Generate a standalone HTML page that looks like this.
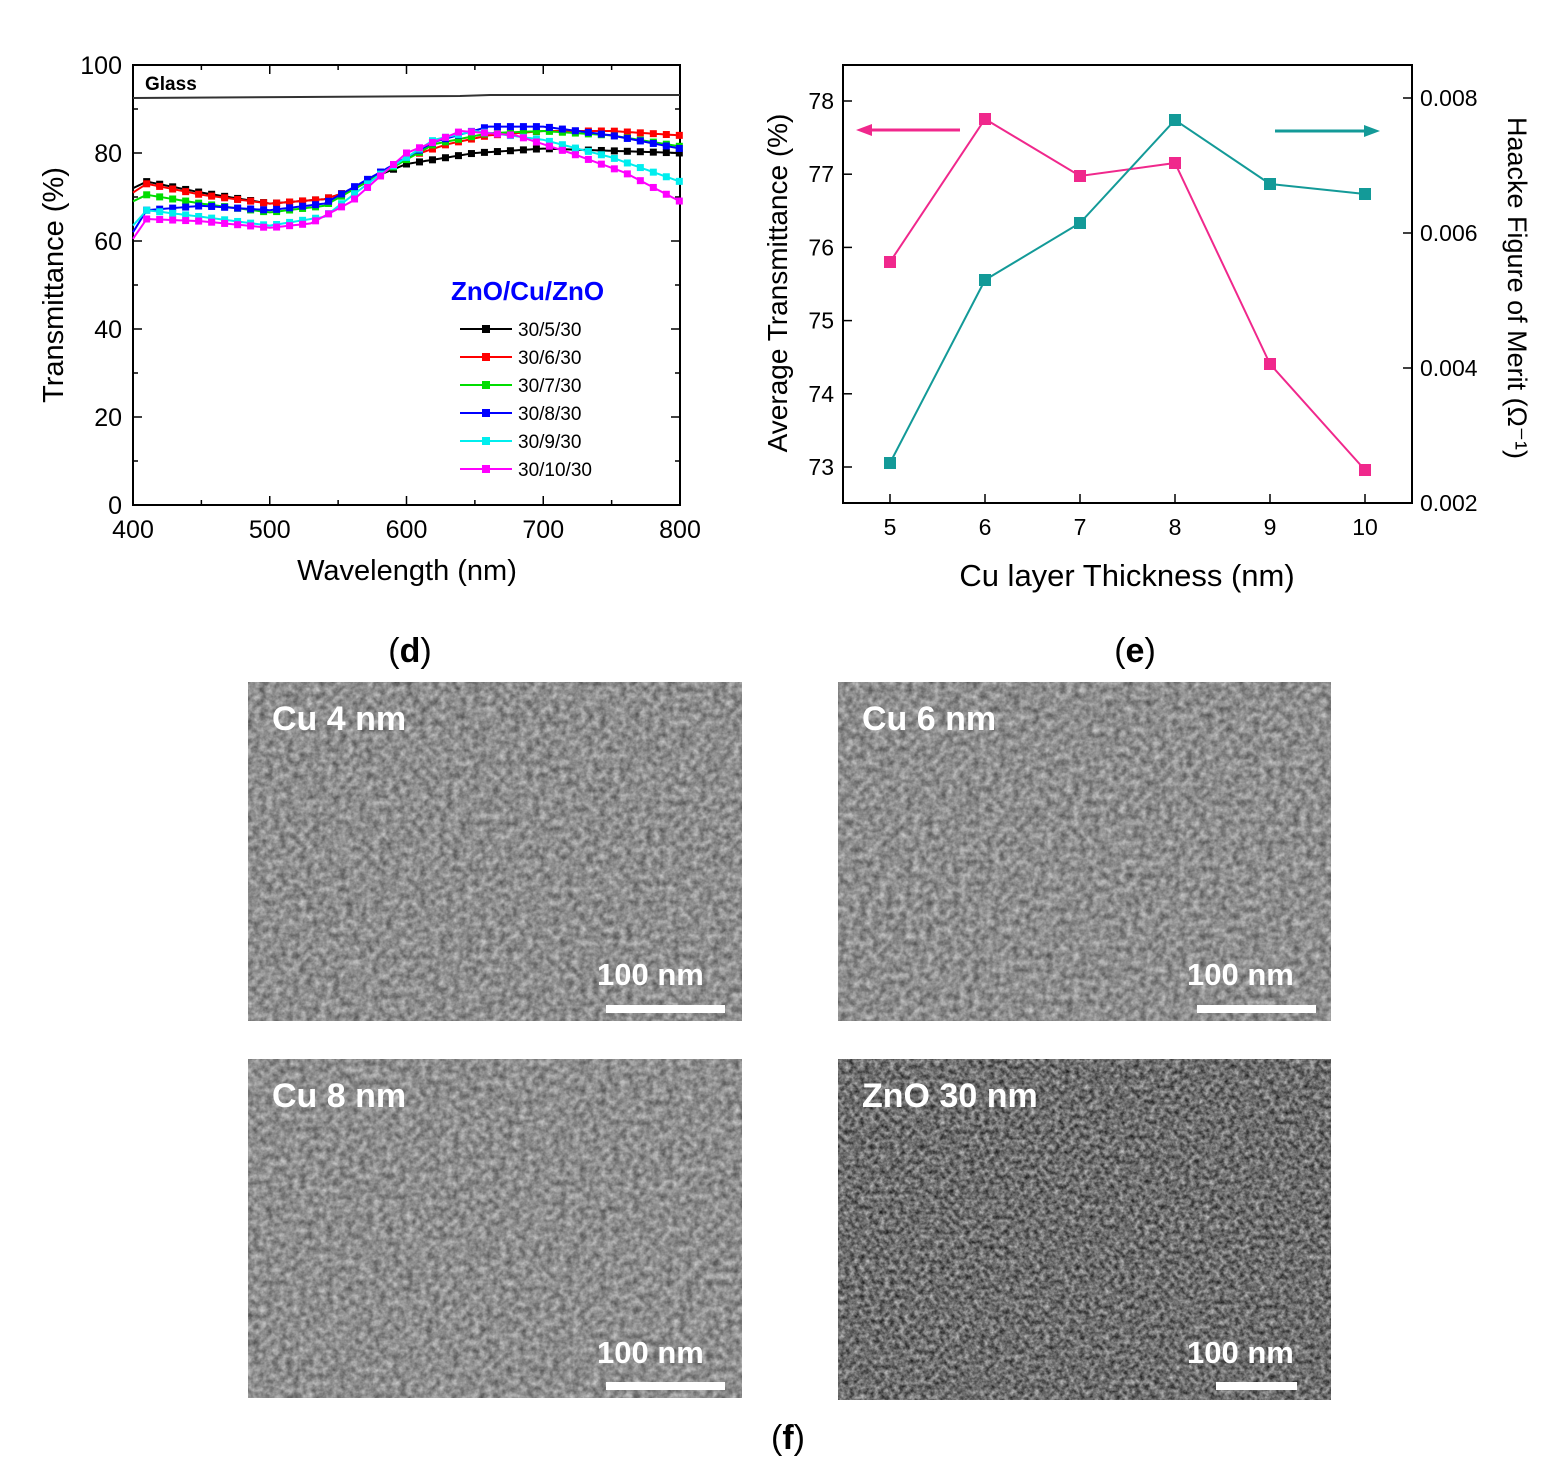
<!DOCTYPE html>
<html><head><meta charset="utf-8"><style>
body{margin:0;background:#fff;}
svg text{font-family:"Liberation Sans",Arial,sans-serif;}
</style></head><body>
<svg id="s" width="1568" height="1466" xmlns="http://www.w3.org/2000/svg">
<defs>
<filter id="g1" x="0" y="0" width="100%" height="100%" color-interpolation-filters="sRGB"><feTurbulence type="fractalNoise" baseFrequency="0.15" numOctaves="3" seed="2" result="t"/><feColorMatrix in="t" type="matrix" values="0.55 0 0 0 0.28  0.55 0 0 0 0.28  0.55 0 0 0 0.28  0 0 0 0 1"/></filter>
<filter id="g2" x="0" y="0" width="100%" height="100%" color-interpolation-filters="sRGB"><feTurbulence type="fractalNoise" baseFrequency="0.2" numOctaves="3" seed="7" result="t"/><feColorMatrix in="t" type="matrix" values="0.8 0 0 0 0.03  0.8 0 0 0 0.03  0.8 0 0 0 0.03  0 0 0 0 1"/></filter>
</defs>
<g id="d"></g>
<g id="e"></g>
<rect x="248" y="682" width="494" height="339" filter="url(#g1)"/>
<rect x="838" y="682" width="493" height="339" filter="url(#g1)"/>
<rect x="248" y="1059" width="494" height="339" filter="url(#g1)"/>
<rect x="838" y="1059" width="493" height="341" filter="url(#g2)"/>
<g fill="#fff" font-weight="bold" font-size="34">
<text x="272" y="730">Cu 4 nm</text><text x="862" y="730">Cu 6 nm</text>
<text x="272" y="1107">Cu 8 nm</text><text x="862" y="1107">ZnO 30 nm</text>
<text x="597" y="985" font-size="31">100 nm</text><text x="1187" y="985" font-size="31">100 nm</text>
<text x="597" y="1363" font-size="31">100 nm</text><text x="1187" y="1363" font-size="31">100 nm</text>
</g>
<g fill="#fff"><rect x="606" y="1005" width="119" height="8"/><rect x="1197" y="1005" width="119" height="8"/><rect x="606" y="1382" width="119" height="8"/><rect x="1216" y="1382" width="81" height="8"/></g>
<g font-family="Liberation Serif,serif" font-size="34" text-anchor="middle">
<text x="410" y="662">(<tspan font-weight="bold">d</tspan>)</text>
<text x="1135" y="662">(<tspan font-weight="bold">e</tspan>)</text>
<text x="788" y="1449">(<tspan font-weight="bold">f</tspan>)</text>
</g>
</svg>
<script>
var NS="http://www.w3.org/2000/svg";
function el(p,t,a,txt){var e=document.createElementNS(NS,t);for(var k in a)e.setAttribute(k,a[k]);if(txt!=null)e.textContent=txt;p.appendChild(e);return e;}
var d=document.getElementById('d');
var X=function(w){return 133+(w-400)*547/400},Y=function(t){return 505-t*4.4};
el(d,'rect',{x:133,y:65,width:547,height:440,fill:'none',stroke:'#000','stroke-width':2});
for(var w=400;w<=800;w+=100){el(d,'text',{x:X(w),y:538,'font-size':25,'text-anchor':'middle'},w);}
for(var w=400;w<=800;w+=50){var l=(w%100==0)?9:5;el(d,'line',{x1:X(w),x2:X(w),y1:505,y2:505-l,stroke:'#000','stroke-width':1.5});el(d,'line',{x1:X(w),x2:X(w),y1:65,y2:65+l,stroke:'#000','stroke-width':1.5});}
for(var t=0;t<=100;t+=10){var l=(t%20==0)?9:5;el(d,'line',{x1:133,x2:133+l,y1:Y(t),y2:Y(t),stroke:'#000','stroke-width':1.5});el(d,'line',{x1:680,x2:680-l,y1:Y(t),y2:Y(t),stroke:'#000','stroke-width':1.5});if(t%20==0)el(d,'text',{x:122,y:Y(t)+9,'font-size':25,'text-anchor':'end'},t);}
el(d,'text',{x:407,y:580,'font-size':29,'text-anchor':'middle'},'Wavelength (nm)');
el(d,'text',{x:0,y:0,'font-size':29,'text-anchor':'middle',transform:'translate(63,285) rotate(-90)'},'Transmittance (%)');
el(d,'polyline',{points:'133,98 300,97 460,96 490,95 680,95',fill:'none',stroke:'#333','stroke-width':2});
el(d,'text',{x:145,y:90,'font-size':19,'font-weight':'bold'},'Glass');
var S=[['#000',[[400,72],[410,73.5],[450,71],[500,68.5],[540,69.5],[560,71.5],[580,75],[600,77.5],[650,80],[700,81],[750,80.5],[800,80]]],
['#f00',[[400,71],[410,73],[450,70.5],[500,68.5],[540,69.5],[560,71.5],[600,79],[630,82],[660,84],[700,85],[750,85],[800,84]]],
['#0d0',[[400,69],[410,70.5],[450,68.5],[500,66.5],[540,68],[580,75],[620,82],[660,84.5],[700,85],[750,84],[800,81.5]]],
['#00f',[[400,62],[410,67],[450,68],[500,67],[540,68.5],[580,75.5],[620,82.5],[660,86],[700,86],[750,84],[800,81]]],
['#0ee',[[400,63.5],[410,67],[450,65.5],[500,63.5],[540,65.5],[580,75],[620,83],[650,85],[700,83],[750,79],[800,73.5]]],
['#f0f',[[400,60.5],[410,65],[450,64.5],[500,63],[530,64],[560,69],[600,80],[640,85],[680,84],[720,80],[760,75.5],[800,69]]]];
function interp(p,w){for(var i=0;i<p.length-1;i++){if(w>=p[i][0]&&w<=p[i+1][0]){var f=(w-p[i][0])/(p[i+1][0]-p[i][0]);return p[i][1]+f*(p[i+1][1]-p[i][1]);}}return p[p.length-1][1];}
S.forEach(function(s){var pts=[];for(var w=400;w<=800;w+=2)pts.push(X(w)+','+Y(interp(s[1],w)));
el(d,'polyline',{points:pts.join(' '),fill:'none',stroke:s[0],'stroke-width':2});
for(var w=410;w<=800;w+=9.5){var x=X(w),y=Y(interp(s[1],w));el(d,'rect',{x:x-3.5,y:y-3.5,width:7,height:7,fill:s[0]});}});
el(d,'text',{x:451,y:300,'font-size':26,'font-weight':'bold',fill:'#00f'},'ZnO/Cu/ZnO');
var labs=['30/5/30','30/6/30','30/7/30','30/8/30','30/9/30','30/10/30'];
labs.forEach(function(t,i){var y=329+i*28;el(d,'line',{x1:460,x2:512,y1:y,y2:y,stroke:S[i][0],'stroke-width':2});el(d,'rect',{x:482,y:y-4,width:8,height:8,fill:S[i][0]});el(d,'text',{x:518,y:y+7,'font-size':19},t);});
var e=document.getElementById('e');
var XE=function(c){return 890+(c-5)*95},YL=function(v){return 467-(v-73)*73.2};
el(e,'rect',{x:843,y:65,width:569,height:438,fill:'none',stroke:'#000','stroke-width':2});
for(var c=5;c<=10;c++){el(e,'line',{x1:XE(c),x2:XE(c),y1:503,y2:494,stroke:'#000','stroke-width':1.5});el(e,'text',{x:XE(c),y:535,'font-size':23,'text-anchor':'middle'},c);}
for(var v=73;v<=78;v++){el(e,'line',{x1:843,x2:852,y1:YL(v),y2:YL(v),stroke:'#000','stroke-width':1.5});el(e,'text',{x:834,y:YL(v)+8,'font-size':23,'text-anchor':'end'},v);}
var YR=function(h){return 503-(h-0.002)*67500};
[0.002,0.004,0.006,0.008].forEach(function(h){el(e,'line',{x1:1412,x2:1403,y1:YR(h),y2:YR(h),stroke:'#000','stroke-width':1.5});el(e,'text',{x:1420,y:YR(h)+8,'font-size':23},h.toFixed(3));});
el(e,'text',{x:1127,y:586,'font-size':31,'text-anchor':'middle'},'Cu layer Thickness (nm)');
el(e,'text',{x:0,y:0,'font-size':28,'text-anchor':'middle',transform:'translate(787,283) rotate(-90)'},'Average Transmittance (%)');
el(e,'text',{x:0,y:0,'font-size':27,'text-anchor':'middle',transform:'translate(1508,288) rotate(90)'},'Haacke Figure of Merit (\u03A9\u207B\u00B9)');
var pk=[[5,262],[6,119],[7,176],[8,163],[9,364],[10,470]],tl=[[5,463],[6,280],[7,223],[8,120],[9,184],[10,194]];
[['#f0288c',pk],['#139a98',tl]].forEach(function(s){el(e,'polyline',{points:s[1].map(function(p){return XE(p[0])+','+p[1]}).join(' '),fill:'none',stroke:s[0],'stroke-width':2});s[1].forEach(function(p){el(e,'rect',{x:XE(p[0])-6,y:p[1]-6,width:12,height:12,fill:s[0]});});});
el(e,'line',{x1:960,x2:870,y1:130,y2:130,stroke:'#f0288c','stroke-width':3});el(e,'polygon',{points:'856,130 872,124 872,136',fill:'#f0288c'});
el(e,'line',{x1:1275,x2:1365,y1:131,y2:131,stroke:'#139a98','stroke-width':3});el(e,'polygon',{points:'1380,131 1364,125 1364,137',fill:'#139a98'});
</script>
</body></html>
